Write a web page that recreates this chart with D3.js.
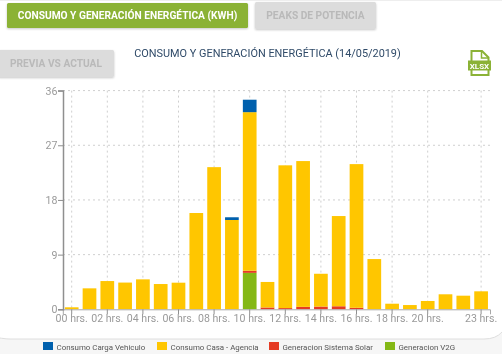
<!DOCTYPE html>
<html>
<head>
<meta charset="utf-8">
<script src="https://cdn.jsdelivr.net/npm/d3@7"></script>
<style>
  html, body { margin: 0; padding: 0; background: #fff; overflow: hidden; }
  svg { display: block; font-family: Roboto, sans-serif; filter: blur(0.35px); }
</style>
</head>
<body>
<div id="chart"></div>
<script>
// Datos ///////////////////////////////////////////////////////////////////
const hours = ['00','01','02','03','04','05','06','07','08','09','10','11','12','13','14','15','16','17','18','19','20','21','22','23'];
const labelledHours = ['00','02','04','06','08','10','12','14','16','18','20','23'];
const yTicks = [0, 9, 18, 27, 36];

const generacionV2G   = [0,0,0,0,0,0,0,0,0,0,6.0,0,0,0,0,0,0,0,0,0,0,0,0,0];
const generacionSolar = [0,0,0,0,0,0,0,0,0,0,0.35,0.3,0.2,0.4,0.45,0.5,0.25,0,0,0,0,0,0,0];
const consumoCasa     = [0.33,3.45,4.65,4.4,4.93,4.16,4.38,15.85,23.4,14.7,26.1,4.2,23.5,24.0,5.4,14.85,23.65,8.27,0.92,0.7,1.37,2.47,2.24,2.96];
const consumoCarga    = [0,0,0,0,0,0,0,0,0,0.45,2.05,0,0,0,0,0,0,0,0,0,0,0,0,0];

const seriesKeys  = ['v2g', 'solar', 'casa', 'carga'];
const seriesColor = { v2g: '#84b816', solar: '#e53b24', casa: '#ffc600', carga: '#0060ad' };

const legendNames = ['Consumo Carga Vehiculo', 'Consumo Casa - Agencia', 'Generacion Sistema Solar', 'Generacion V2G'];
const legendKeys  = ['carga', 'casa', 'solar', 'v2g'];

const rows = hours.map((h, i) => ({
  hour: h, v2g: generacionV2G[i], solar: generacionSolar[i], casa: consumoCasa[i], carga: consumoCarga[i]
}));

// SVG setup ///////////////////////////////////////////////////////////////
const width = 502, height = 354;
const svg = d3.select('#chart').append('svg')
  .attr('width', width).attr('height', height).attr('viewBox', [0, 0, width, height]);

const defs = svg.append('defs');
const shadow = defs.append('filter').attr('id', 'btn-shadow')
  .attr('x', '-10%').attr('y', '-20%').attr('width', '120%').attr('height', '150%');
shadow.append('feDropShadow').attr('dx', 0).attr('dy', 1).attr('stdDeviation', 1.2)
  .attr('flood-color', '#000').attr('flood-opacity', 0.22);

// Fondo: franja de la leyenda y tarjeta redondeada
svg.append('rect').attr('y', 330).attr('width', width).attr('height', 24).attr('fill', '#f6f6f6');
svg.append('path')
  .attr('d', 'M-10,0H512V328L502,332Q496,339 484,339H10Q3,339 -10,336Z')
  .attr('fill', '#fff').attr('stroke', '#dedede').attr('stroke-width', 1);

// Botones /////////////////////////////////////////////////////////////////
const buttons = [
  { text: 'CONSUMO Y GENERACIÓN ENERGÉTICA (KWH)', x: 7, y: 3, w: 241, h: 25, fill: '#8bb236', color: '#fff' },
  { text: 'PEAKS DE POTENCIA', x: 255, y: 2, w: 121, h: 27, fill: '#dcdcdc', color: '#b9b9b9' },
  { text: 'PREVIA VS ACTUAL', x: -2, y: 50, w: 116, h: 27, fill: '#dcdcdc', color: '#b9b9b9' }
];
const btn = svg.append('g').selectAll('g').data(buttons).join('g');
btn.append('rect')
  .attr('x', d => d.x).attr('y', d => d.y).attr('width', d => d.w).attr('height', d => d.h)
  .attr('rx', 1.5).attr('fill', d => d.fill).attr('filter', 'url(#btn-shadow)');
btn.append('text')
  .attr('x', d => d.x + d.w / 2).attr('y', d => d.y + d.h / 2 + 3.7)
  .attr('text-anchor', 'middle').attr('font-size', 10.2).attr('font-weight', 700)
  .attr('fill', d => d.color).text(d => d.text);

// Título
svg.append('text').attr('x', 267.5).attr('y', 56.5).attr('text-anchor', 'middle')
  .attr('font-size', 10.9).attr('fill', '#2f4a68')
  .text('CONSUMO Y GENERACIÓN ENERGÉTICA (14/05/2019)');

// Icono XLSX
const icon = svg.append('g');
icon.append('path').attr('d', 'M471.5,61V51H482L488.5,57.5V61M488.5,70V75H471.5V70')
  .attr('fill', 'none').attr('stroke', '#8bb236').attr('stroke-width', 2);
icon.append('path').attr('d', 'M481.5,51V58H488.5').attr('fill', 'none').attr('stroke', '#8bb236').attr('stroke-width', 1.5);
icon.append('rect').attr('x', 468).attr('y', 60.5).attr('width', 23).attr('height', 10).attr('fill', '#8bb236');
icon.append('text').attr('x', 479.5).attr('y', 68.8).attr('text-anchor', 'middle')
  .attr('font-size', 8).attr('font-weight', 700).attr('fill', '#fff').text('XLSX');

// Escalas /////////////////////////////////////////////////////////////////
const x = d3.scaleBand().domain(hours).range([62.8, 490]).paddingInner(0.23).paddingOuter(0.115);
const y = d3.scaleLinear().domain([0, 36]).range([309.3, 90.6]);

// Grilla punteada
const grid = svg.append('g').attr('stroke', '#cfcfcf').attr('stroke-dasharray', '2,3').attr('stroke-width', 1);
grid.selectAll('line.h').data(yTicks.slice(1)).join('line').attr('class', 'h')
  .attr('x1', 63).attr('x2', 490).attr('y1', d => y(d)).attr('y2', d => y(d));
grid.selectAll('line.v').data(labelledHours).join('line').attr('class', 'v')
  .attr('x1', d => x(d) + x.bandwidth() / 2).attr('x2', d => x(d) + x.bandwidth() / 2)
  .attr('y1', y(36)).attr('y2', y(0));

// Barras apiladas /////////////////////////////////////////////////////////
const stacked = d3.stack().keys(seriesKeys)(rows);
svg.append('g').selectAll('g').data(stacked).join('g')
  .attr('fill', d => seriesColor[d.key])
  .selectAll('rect').data(d => d).join('rect')
  .attr('x', d => x(d.data.hour))
  .attr('y', d => y(d[1]))
  .attr('width', x.bandwidth())
  .attr('height', d => y(d[0]) - y(d[1]));

// Ejes ////////////////////////////////////////////////////////////////////
const xAxis = svg.append('g').attr('transform', `translate(0,${y(0)})`)
  .call(d3.axisBottom(x).tickValues(labelledHours).tickSize(5).tickPadding(0).tickFormat(d => d + ' hrs.'));
const yAxis = svg.append('g').attr('transform', 'translate(63,0)')
  .call(d3.axisLeft(y).tickValues(yTicks).tickSize(5).tickPadding(0.5));

[xAxis, yAxis].forEach(a => {
  a.selectAll('text').attr('fill', '#9a9a9a').attr('font-size', 10.6).attr('font-family', 'Roboto, sans-serif');
  a.selectAll('line').attr('stroke', '#8f8f8f');
});
xAxis.select('.domain').attr('stroke', '#a8a8a8').attr('stroke-width', 1);
yAxis.select('.domain').attr('stroke', '#8f8f8f').attr('stroke-width', 1.5);

// Leyenda /////////////////////////////////////////////////////////////////
const legendX = [43, 157, 269, 385];
const legend = svg.append('g').selectAll('g').data(legendKeys).join('g')
  .attr('transform', (d, i) => `translate(${legendX[i]},342)`);
legend.append('rect').attr('width', 10).attr('height', 8).attr('fill', d => seriesColor[d]);
legend.append('text').attr('x', 13.5).attr('y', 7.5)
  .attr('font-size', 7.9).attr('fill', '#555')
  .text((d, i) => legendNames[i]);
</script>
</body>
</html>
